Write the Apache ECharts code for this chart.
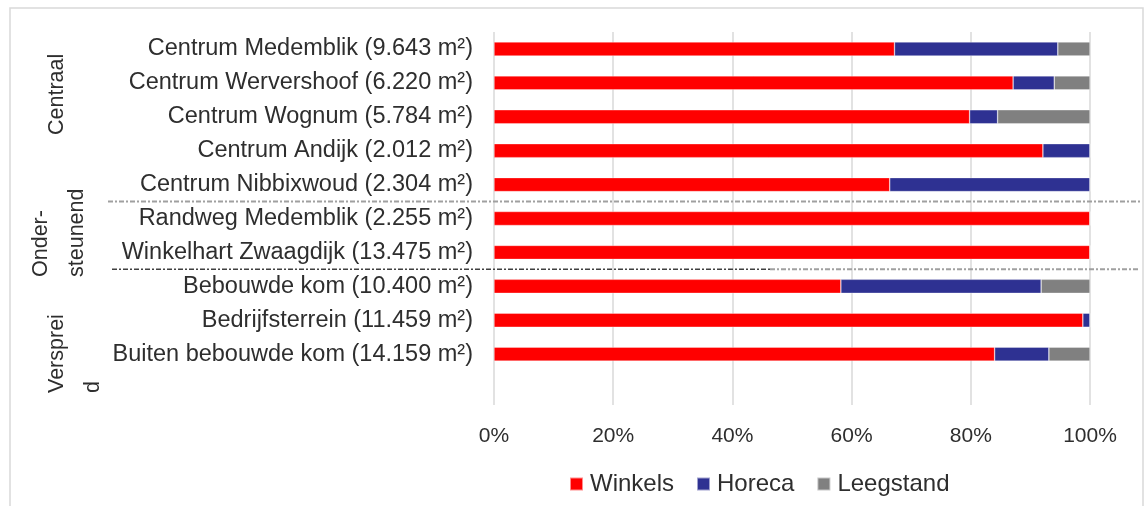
<!DOCTYPE html>
<html>
<head>
<meta charset="utf-8">
<title>Winkelvloeroppervlak per locatie</title>
<script src="https://cdn.jsdelivr.net/npm/echarts@6/dist/echarts.min.js"></script>
<style>
  html, body { margin: 0; padding: 0; background: #fff; }
  #chart { width: 1146px; height: 506px; }
</style>
</head>
<body>
<div id="chart"></div>
<script>
// Locations (top to bottom) with their total floor area
const categories = [
  'Centrum Medemblik (9.643 m²)',
  'Centrum Wervershoof (6.220 m²)',
  'Centrum Wognum (5.784 m²)',
  'Centrum Andijk (2.012 m²)',
  'Centrum Nibbixwoud (2.304 m²)',
  'Randweg Medemblik (2.255 m²)',
  'Winkelhart Zwaagdijk (13.475 m²)',
  'Bebouwde kom (10.400 m²)',
  'Bedrijfsterrein (11.459 m²)',
  'Buiten bebouwde kom (14.159 m²)'
];

// Share of floor area per function (%)
const winkels   = [67.2, 87.1, 79.8, 92.1, 66.4, 100, 100, 58.2, 98.8, 84.0];
const horeca    = [27.4,  6.9,  4.7,  7.9, 33.6,   0,   0, 33.6,  1.2,  9.1];
const leegstand = [ 5.4,  6.0, 15.5,  0.0,  0.0,   0,   0,  8.2,  0.0,  6.9];

const seriesNames = ['Winkels', 'Horeca', 'Leegstand'];

// Percentage axis ticks
const xTicks = [0, 20, 40, 60, 80, 100];

// Location groups and the index of the last location in each group
const groupNames = ['Centraal', 'Onder-\nsteunend', 'Versprei\nd'];
const groupEnds = [4, 6, 9];

const FONT = '"Liberation Sans", Arial, sans-serif';
const TEXT = '#2e2e2e';
const colors = ['#FF0000', '#2E3192', '#808080'];

// one blank slot below the last location keeps room for the wrapped group label
const yCats = categories.concat(['']);
const pad = arr => arr.concat([null]);

const chart = echarts.init(document.getElementById('chart'), null, { renderer: 'canvas' });

const mkSeries = (name, data, i) => ({
  name: name,
  type: 'bar',
  stack: 'total',
  barWidth: 14,
  data: pad(data),
  itemStyle: { color: colors[i], borderColor: 'rgba(255,255,255,0.55)', borderWidth: 0.6 },
  emphasis: { disabled: true }
});

chart.setOption({
  animation: false,
  backgroundColor: '#ffffff',
  textStyle: { fontFamily: FONT },
  grid: { left: 494, right: 56, top: 32, bottom: 101, containLabel: false },
  legend: {
    data: seriesNames,
    left: 564,
    top: 467,
    icon: 'rect',
    itemWidth: 13,
    itemHeight: 13,
    itemGap: 22,
    textStyle: { fontFamily: FONT, fontSize: 24, color: TEXT, padding: [0, 0, 0, 2] }
  },
  xAxis: {
    type: 'value',
    min: xTicks[0],
    max: xTicks[xTicks.length - 1],
    interval: xTicks[1] - xTicks[0],
    axisLine: { show: false },
    axisTick: { show: false },
    axisLabel: {
      formatter: '{value}%',
      fontFamily: FONT,
      fontSize: 21,
      color: TEXT,
      margin: 21
    },
    splitLine: { show: true, lineStyle: { color: '#d9d9d9', width: 1.5 } }
  },
  yAxis: {
    type: 'category',
    inverse: true,
    data: yCats,
    axisLine: { show: false },
    axisTick: { show: false },
    axisLabel: { fontFamily: FONT, fontSize: 23.5, color: TEXT, margin: 21 }
  },
  series: [
    mkSeries(seriesNames[0], winkels, 0),
    mkSeries(seriesNames[1], horeca, 1),
    mkSeries(seriesNames[2], leegstand, 2)
  ]
});

// Group separators sit halfway between the last row of one group and the first of the next
const rowY = i => chart.convertToPixel({ yAxisIndex: 0 }, yCats[i]);
const sepY = groupEnds.slice(0, -1).map(e => (rowY(e) + rowY(e + 1)) / 2);

const groupText = (txt, x, y) => ({
  type: 'text',
  x: x, y: y,
  rotation: Math.PI / 2,
  style: {
    text: txt,
    fontFamily: FONT,
    fontSize: 21.5,
    fill: TEXT,
    align: 'left',
    verticalAlign: 'middle',
    lineHeight: 36
  }
});

chart.setOption({
  graphic: [
    // outer frame
    { type: 'rect', shape: { x: 10, y: 8, width: 1133, height: 504 },
      style: { fill: 'none', stroke: '#d9d9d9', lineWidth: 1.5 }, silent: true },
    // separator between Centraal and Ondersteunend
    { type: 'line', shape: { x1: 108, y1: sepY[0], x2: 1140, y2: sepY[0] },
      style: { stroke: '#a0a0a0', lineWidth: 2, lineDash: [5, 2, 2, 2] }, silent: true },
    // separator between Ondersteunend and Verspreid
    { type: 'line', shape: { x1: 112, y1: sepY[1], x2: 770, y2: sepY[1] },
      style: { stroke: '#404040', lineWidth: 1.5, lineDash: [5, 2, 2, 2] }, silent: true },
    { type: 'line', shape: { x1: 770, y1: sepY[1], x2: 1140, y2: sepY[1] },
      style: { stroke: '#a0a0a0', lineWidth: 2, lineDash: [5, 2, 2, 2] }, silent: true },
    groupText(groupNames[0], 57, 135),
    groupText(groupNames[1], 59, 277),
    groupText(groupNames[2], 75, 393)
  ]
});
</script>
</body>
</html>
